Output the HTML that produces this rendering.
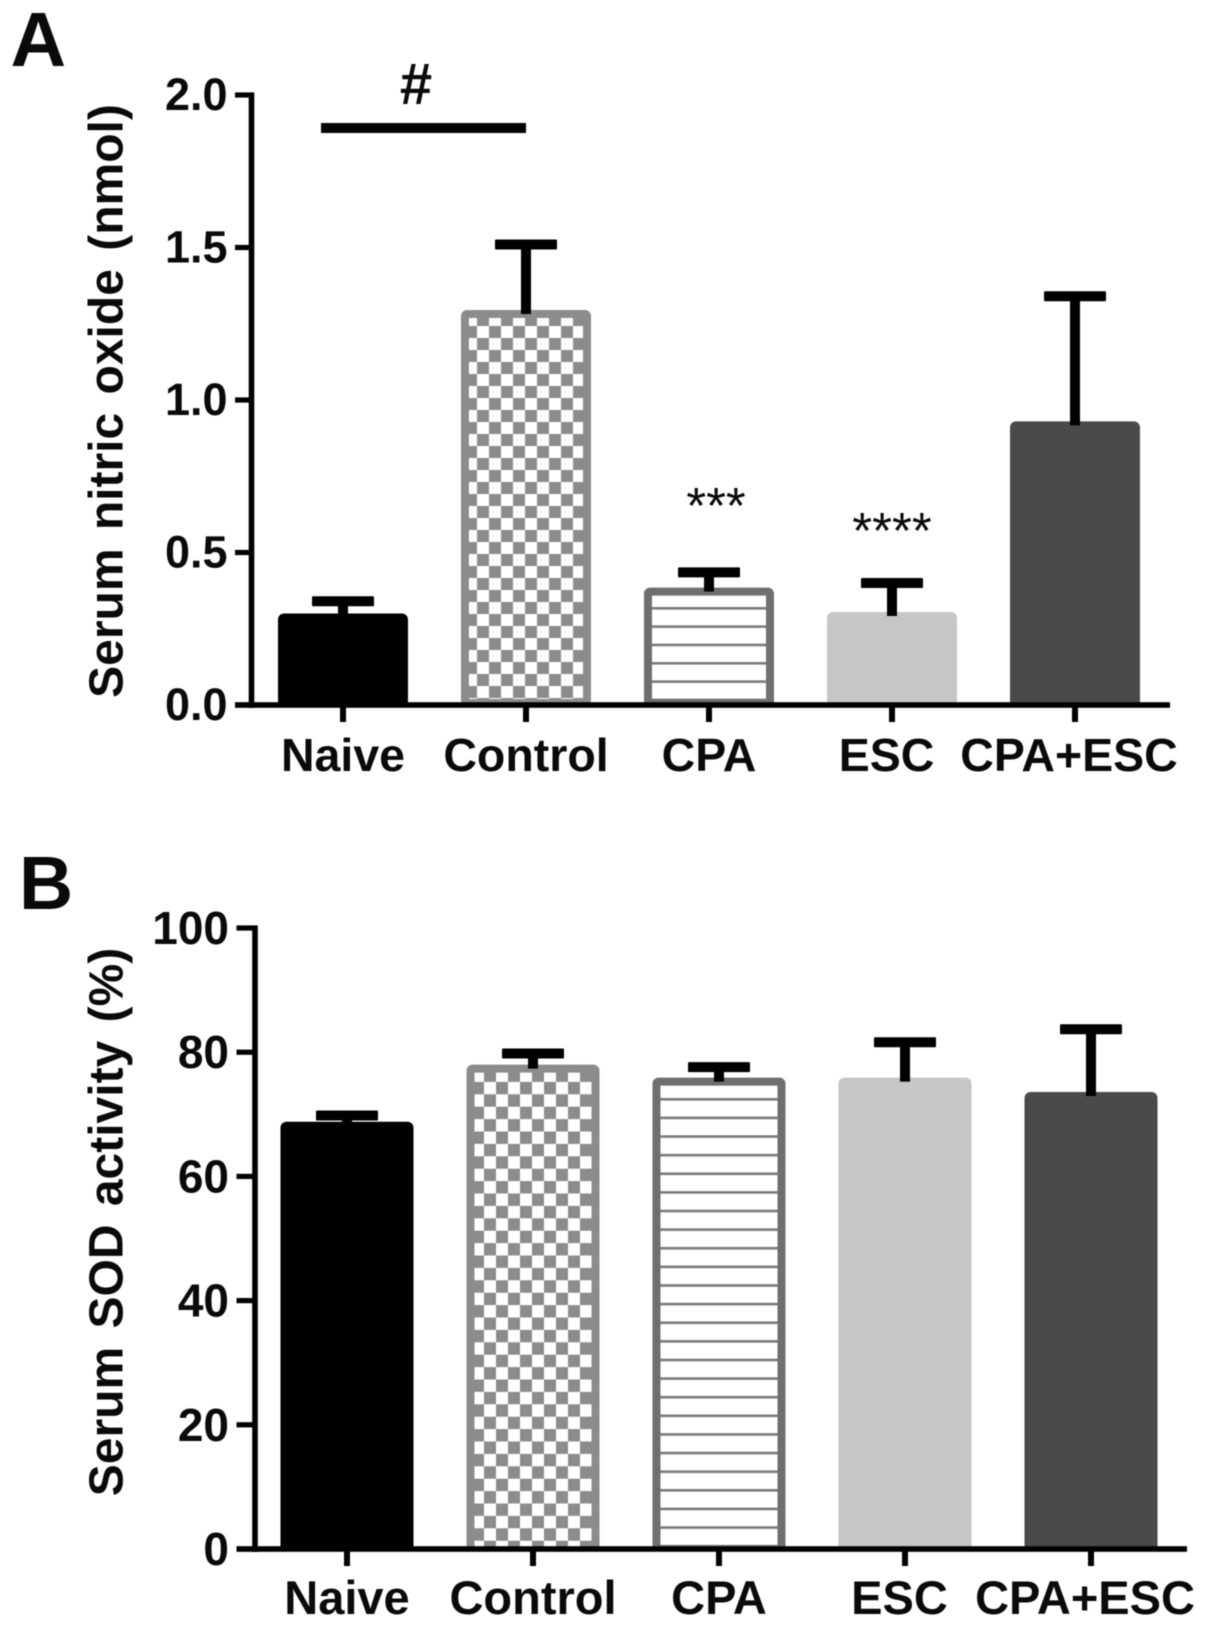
<!DOCTYPE html>
<html lang="en">
<head>
<meta charset="utf-8">
<title>Serum nitric oxide and SOD activity</title>
<style>
html,body{margin:0;padding:0;background:#fff;width:1205px;height:1628px;overflow:hidden}
svg{display:block;filter:blur(.55px)}
text{font-family:"Liberation Sans",Arial,sans-serif;font-weight:bold;fill:#0a0a0a}
</style>
</head>
<body>
<svg id="figure" xmlns="http://www.w3.org/2000/svg" width="1205" height="1628" viewBox="0 0 1205 1628">
  <defs>
    <clipPath id="clipB"><rect x="0" y="0" width="1205" height="1549"/></clipPath>
    <pattern id="checkA" patternUnits="userSpaceOnUse" x="477" y="314" width="24" height="24">
      <rect width="24" height="24" fill="#fff"/>
      <rect width="12" height="12" fill="#8c8c8c"/>
      <rect x="12" y="12" width="12" height="12" fill="#8c8c8c"/>
    </pattern>
    <pattern id="checkB" patternUnits="userSpaceOnUse" x="484" y="1069.5" width="24" height="24.8">
      <rect width="24" height="24.8" fill="#fff"/>
      <rect width="12" height="12.4" fill="#8c8c8c"/>
      <rect x="12" y="12.4" width="12" height="12.4" fill="#8c8c8c"/>
    </pattern>
    <pattern id="linesA" patternUnits="userSpaceOnUse" x="0" y="607" width="20" height="18.33">
      <rect width="20" height="18.33" fill="#fff"/>
      <rect width="20" height="2.6" fill="#7a7a7a"/>
    </pattern>
    <pattern id="linesB" patternUnits="userSpaceOnUse" x="0" y="1098" width="20" height="18.62">
      <rect width="20" height="18.62" fill="#fff"/>
      <rect width="20" height="2.6" fill="#7a7a7a"/>
    </pattern>
  </defs>

  <text x="10.5" y="66" font-size="77">A</text>
  <text x="19" y="909" font-size="75">B</text>

  <g id="chartA"></g>
  <g id="chartB"></g>

  <text transform="translate(122.5 401) rotate(-90)" text-anchor="middle" font-size="48" word-spacing="5">Serum nitric oxide (nmol)</text>
  <text transform="translate(122.5 1222) rotate(-90)" text-anchor="middle" font-size="48" word-spacing="5">Serum SOD activity (%)</text>

  <rect x="321" y="123" width="205" height="10" fill="#000"/>
  <text x="416" y="104" text-anchor="middle" font-size="58">#</text>
  <text x="716" y="523" text-anchor="middle" font-size="51" style="font-weight:normal">***</text>
  <text x="892" y="548" text-anchor="middle" font-size="51" style="font-weight:normal">****</text>
</svg>

<script>
const categories = ['Naive', 'Control', 'CPA', 'ESC', 'CPA+ESC'];

const nitricValues = [0.30, 1.295, 0.385, 0.305, 0.93];
const nitricErrorTops = [0.34, 1.51, 0.435, 0.40, 1.34];
const nitricTicks = [0, 0.5, 1.0, 1.5, 2.0];
const nitricTickLabels = ['0.0', '0.5', '1.0', '1.5', '2.0'];

const sodValues = [68.8, 78, 75.9, 75.9, 73.6];
const sodErrorTops = [69.8, 79.8, 77.6, 81.6, 83.7];
const sodTicks = [0, 20, 40, 60, 80, 100];
const sodTickLabels = ['0', '20', '40', '60', '80', '100'];

const SVG_NS = 'http://www.w3.org/2000/svg';

function mk(parent, tag, attrs, content) {
  const el = document.createElementNS(SVG_NS, tag);
  for (const k in attrs) el.setAttribute(k, attrs[k]);
  if (content !== undefined) el.textContent = content;
  parent.appendChild(el);
  return el;
}

function drawChart(root, cfg, values, errorTops, ticks, tickLabels) {
  const yScale = function (v) { return cfg.y0 - (v / cfg.yMax) * (cfg.y0 - cfg.yTop); };
  const xScale = function (i) { return cfg.x0 + cfg.step * i; };

  const barStyles = [
    { fill: '#000', stroke: '#000' },
    { fill: 'url(#' + cfg.checkId + ')', stroke: '#8c8c8c' },
    { fill: 'url(#' + cfg.lineId + ')', stroke: '#6f6f6f' },
    { fill: '#c6c6c6', stroke: '#c6c6c6' },
    { fill: '#4a4a4a', stroke: '#4a4a4a' }
  ];

  categories.forEach(function (cat, i) {
    const slug = cat.toLowerCase().replace('+', '-');
    const cx = xScale(i);
    const top = yScale(values[i]);
    const sw = 8;
    const style = barStyles[i];

    const bar = mk(root, 'rect', {
      x: cx - cfg.barW / 2 + sw / 2,
      y: top + sw / 2,
      width: cfg.barW - sw,
      height: Math.max(0, cfg.y0 - top - sw + cfg.bottomExtend),
      rx: 2,
      fill: style.fill,
      stroke: style.stroke,
      'stroke-width': sw
    });
    if (cfg.clipId) bar.setAttribute('clip-path', 'url(#' + cfg.clipId + ')');
    
    

    const capY = yScale(errorTops[i]);
    const stem = mk(root, 'rect', {
      x: cx - 5,
      y: capY,
      width: 10,
      height: Math.max(0, top + 4 - capY),
      fill: '#000'
    });
    
    

    const cap = mk(root, 'rect', {
      x: cx - 31,
      y: capY - 5,
      width: 62,
      height: 10,
      rx: 1,
      fill: '#000'
    });
    
    

    const xt = mk(root, 'rect', {
      x: cx - 3,
      y: cfg.y0,
      width: 6,
      height: 17,
      fill: '#000'
    });
    
    

    const labelShift = i === 3 ? -5.5 : (i === 4 ? -6 : 0);
    const xl = mk(root, 'text', {
      x: cx + labelShift,
      y: cfg.labelY,
      'text-anchor': 'middle',
      'font-size': cfg.labelFont
    }, cat);
    
    
  });

  const yAxis = mk(root, 'rect', {
    x: cfg.axisX - 2.8,
    y: cfg.yTop - 2.6,
    width: 5.6,
    height: cfg.y0 - cfg.yTop + 5.6,
    fill: '#000'
  });
  
  

  const xAxis = mk(root, 'rect', {
    x: cfg.tickX,
    y: cfg.y0 - 2.8,
    width: cfg.axisEnd - cfg.tickX,
    height: 5.6,
    fill: '#000'
  });
  
  

  ticks.forEach(function (t, i) {
    const y = yScale(t);
    const tk = mk(root, 'rect', {
      x: cfg.tickX,
      y: y - 2.6,
      width: cfg.axisX - cfg.tickX,
      height: 5.2,
      fill: '#000'
    });
    
    

    const lb = mk(root, 'text', {
      x: cfg.tickLabelX,
      y: y + cfg.tickDy,
      'text-anchor': 'end',
      'font-size': cfg.tickFont
    }, tickLabels[i]);
    
    
  });
}

drawChart(document.getElementById('chartA'), {
  x0: 343, step: 183, barW: 130, y0: 705, yTop: 95, yMax: 2,
  axisX: 251.5, tickX: 235, axisEnd: 1170, labelY: 771, labelFont: 46.5,
  tickLabelX: 227.5, tickDy: 15, tickFont: 45, bottomExtend: 2, clipId: '',
  checkId: 'checkA', lineId: 'linesA'
}, nitricValues, nitricErrorTops, nitricTicks, nitricTickLabels);

drawChart(document.getElementById('chartB'), {
  x0: 347, step: 186, barW: 133, y0: 1549, yTop: 928, yMax: 100,
  axisX: 255, tickX: 236.5, axisEnd: 1187, labelY: 1614, labelFont: 47,
  tickLabelX: 229, tickDy: 16, tickFont: 46, bottomExtend: 10, clipId: 'clipB',
  checkId: 'checkB', lineId: 'linesB'
}, sodValues, sodErrorTops, sodTicks, sodTickLabels);
</script>
</body>
</html>
